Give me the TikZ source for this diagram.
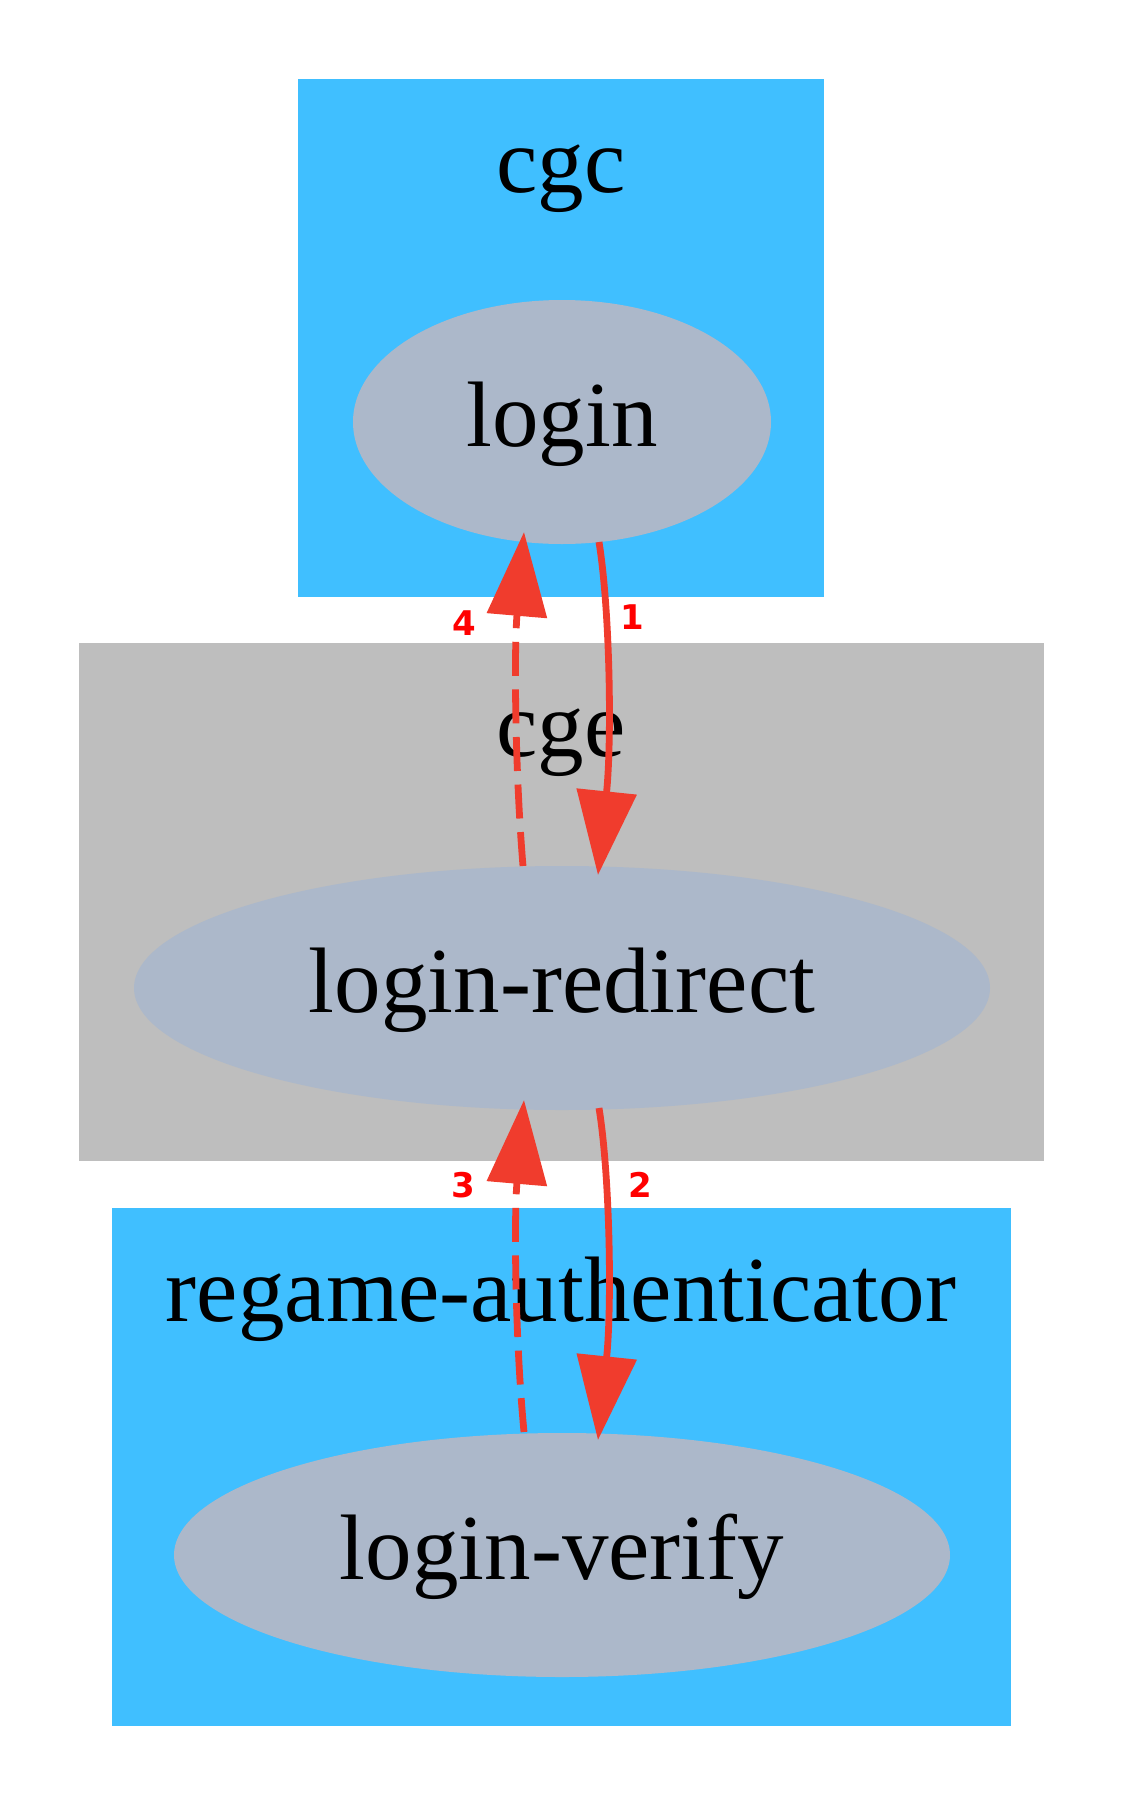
\documentclass[tikz,border=0pt]{standalone}
\usepackage{fontspec}
\setmainfont{Liberation Serif}
\newfontfamily\lblfont{DejaVu Sans}
\usetikzlibrary{arrows.meta,calc,shapes.geometric}
\definecolor{clblue}{HTML}{40BFFF}
\definecolor{clgray}{HTML}{BEBEBE}
\definecolor{ndfill}{HTML}{ACB8CA}
\definecolor{edred}{HTML}{F03C2D}
\definecolor{lbred}{HTML}{FF0000}
\tikzset{
  cluster/.style={draw=none},
  clabel/.style={anchor=base, inner sep=0pt, font=\fontsize{46.5pt}{50pt}\selectfont},
  gnode/.style={ellipse, fill=ndfill, draw=none, inner sep=0pt, minimum height=122pt,
    text height=30pt, text depth=6pt, font=\fontsize{46.5pt}{50pt}\selectfont},
  edge/.style={draw=edred, line width=3.4pt, -{Triangle[length=42pt,width=29.5pt,fill=edred]}},
  redge/.style={edge, dash pattern=on 17pt off 6.8pt},
  elabel/.style={inner sep=0pt, text=lbred, font=\lblfont\bfseries\fontsize{17pt}{19pt}\selectfont}
}
\begin{document}
\begin{tikzpicture}[x=0.5pt,y=-0.5pt]
\path[use as bounding box] (0,0) rectangle (1120,1800);
% clusters
\fill[clblue] (298,79) rectangle (824,597);
\fill[clgray] (79,643) rectangle (1044,1161);
\fill[clblue] (112,1208) rectangle (1011,1726);
\node[clabel] (lcgc) at (561,192) {cgc};
\node[clabel] (lcge) at (561,756) {cge};
\node[clabel] (lreg) at (561,1321) {regame-authenticator};
% nodes
\node[gnode, minimum width=209pt] (login) at (562,422) {login};
\node[gnode, minimum width=428pt] (redirect) at (562,988) {login-redirect};
\node[gnode, minimum width=388pt] (verify) at (562,1555) {login-verify};
% edges
\draw[edge] ($(login)+(37,120)$) .. controls (610,610) and (612,740) .. ($(redirect)+(36,-113)$);
\draw[redge] ($(redirect)+(-39,-122)$) .. controls (515,770) and (514,650) .. ($(login)+(-38,110)$);
\draw[edge] ($(redirect)+(37,120)$) .. controls (610,1176) and (612,1306) .. ($(verify)+(36,-115)$);
\draw[redge] ($(verify)+(-38,-123)$) .. controls (515,1337) and (514,1217) .. ($(redirect)+(-38,112)$);
% edge labels
\node[elabel] (l1) at (632,617) {1};
\node[elabel] (l4) at (464,623) {4};
\node[elabel] (l2) at (640,1185) {2};
\node[elabel] (l3) at (463,1185) {3};
\end{tikzpicture}
\end{document}
